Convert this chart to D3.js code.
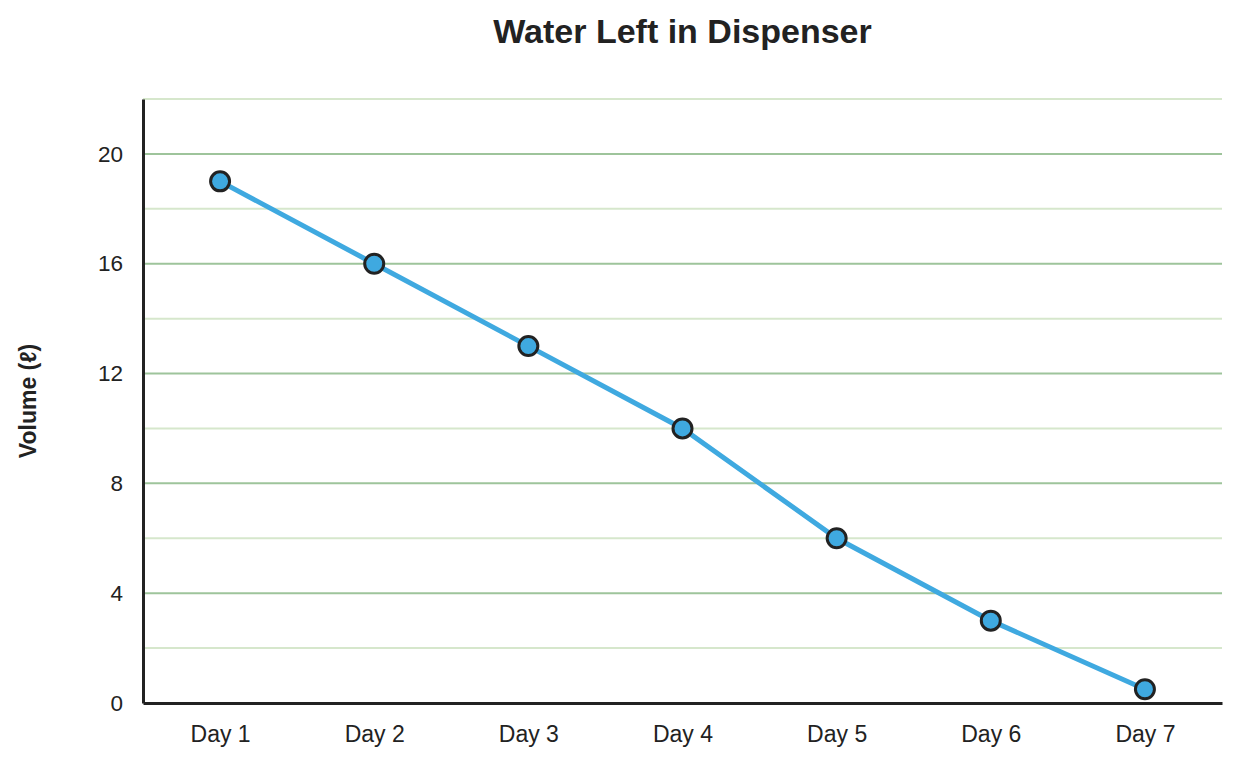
<!DOCTYPE html>
<html>
<head>
<meta charset="utf-8">
<script src="https://cdn.jsdelivr.net/npm/d3@7"></script>
<style>
  body { margin: 0; background: #fff; }
  text { font-family: "Liberation Sans", Arial, sans-serif; fill: #222; }
</style>
</head>
<body>
<div id="chart"></div>
<script>
const days = ['Day 1', 'Day 2', 'Day 3', 'Day 4', 'Day 5', 'Day 6', 'Day 7'];
const volume = [19, 16, 13, 10, 6, 3, 0.5];
const majorTicks = [0, 4, 8, 12, 16, 20];
const minorTicks = [2, 6, 10, 14, 18, 22];

const W = 1241, H = 766;
const margin = { top: 99, right: 19, bottom: 63, left: 143 };
const width = W - margin.left - margin.right;
const height = H - margin.top - margin.bottom;

const svg = d3.select('#chart')
  .append('svg')
  .attr('width', W)
  .attr('height', H);

const g = svg.append('g')
  .attr('transform', `translate(${margin.left},${margin.top})`);

const x = d3.scalePoint().domain(days).range([0, width]).padding(0.5);
const y = d3.scaleLinear().domain([0, 22]).range([height, 0]);

// gridlines
g.selectAll('.minor')
  .data(minorTicks)
  .enter().append('line')
  .attr('x1', 0).attr('x2', width)
  .attr('y1', d => y(d)).attr('y2', d => y(d))
  .attr('stroke', '#d6e7cc')
  .attr('stroke-width', 2);

g.selectAll('.major')
  .data(majorTicks.filter(d => d > 0))
  .enter().append('line')
  .attr('x1', 0).attr('x2', width)
  .attr('y1', d => y(d)).attr('y2', d => y(d))
  .attr('stroke', '#9ec49b')
  .attr('stroke-width', 2);

// axes
const yAxis = g.append('g')
  .call(d3.axisLeft(y).tickValues(majorTicks).tickSize(0).tickPadding(20));
yAxis.select('.domain').attr('stroke', '#222').attr('stroke-width', 3);
yAxis.selectAll('text').style('font-size', '22.5px').attr('fill', '#222');

const xAxis = g.append('g')
  .attr('transform', `translate(0,${height})`)
  .call(d3.axisBottom(x).tickSize(0).tickPadding(23));
xAxis.select('.domain').attr('stroke', '#222').attr('stroke-width', 3);
xAxis.selectAll('text').style('font-size', '23px').attr('fill', '#222');

// line
const line = d3.line()
  .x((d, i) => x(days[i]))
  .y(d => y(d));

g.append('path')
  .datum(volume)
  .attr('d', line)
  .attr('fill', 'none')
  .attr('stroke', '#3fa9e0')
  .attr('stroke-width', 5);

g.selectAll('.pt')
  .data(volume)
  .enter().append('circle')
  .attr('cx', (d, i) => x(days[i]))
  .attr('cy', d => y(d))
  .attr('r', 9.5)
  .attr('fill', '#3fa9e0')
  .attr('stroke', '#222')
  .attr('stroke-width', 3);

// title and labels
svg.append('text')
  .attr('x', margin.left + width / 2)
  .attr('y', 43)
  .attr('text-anchor', 'middle')
  .style('font-size', '34px')
  .style('font-weight', 'bold')
  .text('Water Left in Dispenser');

svg.append('text')
  .attr('transform', `translate(36,${margin.top + height / 2}) rotate(-90)`)
  .attr('text-anchor', 'middle')
  .style('font-size', '23px')
  .style('font-weight', 'bold')
  .text('Volume (ℓ)');
</script>
</body>
</html>
